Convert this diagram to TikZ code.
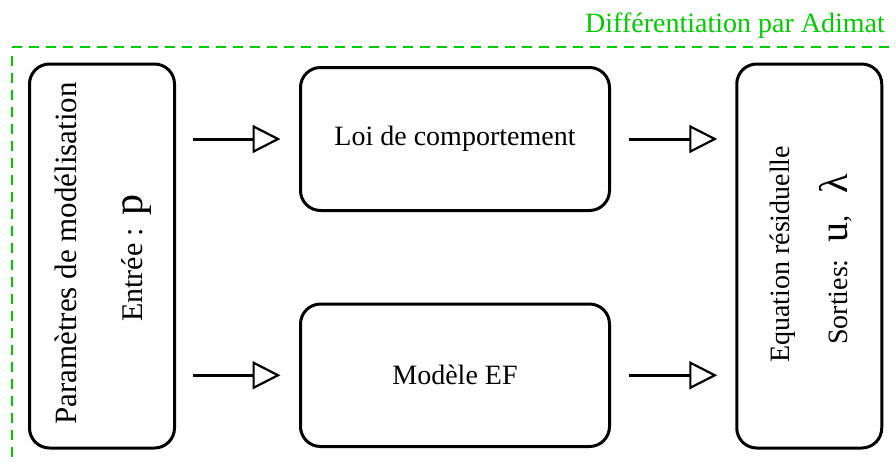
\documentclass[tikz,border=0pt]{standalone}
\usepackage{fontspec}
\setmainfont{Liberation Serif}
\usetikzlibrary{arrows.meta}
\definecolor{adigreen}{RGB}{0,204,0}
\newcommand{\bigglyph}[1]{{\fontsize{40}{40}\selectfont #1}}
\begin{document}
\begin{tikzpicture}[x=1pt,y=-1pt,
  box/.style={draw, line width=3pt, rounded corners=20pt, inner sep=0pt},
  arr/.style={line width=3pt, -{Triangle[open, length=28pt, width=28pt, line width=2.2pt]}},
  txt/.style={font=\fontsize{28}{30}\selectfont, inner sep=0pt},
  frame/.style={adigreen, line width=2.5pt, dash pattern=on 10pt off 7pt},
]
\useasboundingbox (0,0) rectangle (896,461);

% green frame and label
\coordinate (fc) at (12,47);
\coordinate (fr) at (896,47);
\coordinate (fs) at (12,56);
\coordinate (fb) at (12,461);
\draw[frame] (fc) -- (fr);
\draw[frame] (fs) -- (fb);
\node[txt, text=adigreen, anchor=base east] (lbl) at (885,32) {Différentiation par Adimat};

% boxes
\node[box, minimum width=145pt, minimum height=384pt] (lft) at (102,256) {};
\node[box, txt, minimum width=309pt, minimum height=143pt] (lct) at (455,139) {Loi de comportement};
\node[box, txt, minimum width=309pt, minimum height=142.5pt] (mef) at (455,375.25) {Modèle EF};
\node[box, minimum width=145pt, minimum height=384pt] (rgt) at (809.25,256) {};

% rotated texts
\node[txt, font=\fontsize{31}{33}\selectfont, rotate=90, anchor=base west] (t1) at (76,425) {Paramètres de modélisation};
\node[txt, font=\fontsize{30}{32}\selectfont, rotate=90, anchor=base west] (t2) at (142,322) {Entrée :\hspace{12pt}{\fontsize{42}{42}\selectfont p}};
\node[txt, rotate=90, anchor=base west] (t3) at (789,363) {Equation résiduelle};
\node[txt, rotate=90, anchor=base west] (t4) at (847,345) {Sorties:\hspace{17pt}\bigglyph{u},\hspace{22pt}\bigglyph{λ}};

% arrows
\draw[arr, shorten <=17pt, shorten >=18.5pt] (lft.east |- lct.west) -- (lct.west);
\draw[arr, shorten <=17pt, shorten >=18.5pt] (lft.east |- mef.west) -- (mef.west);
\draw[arr, shorten <=17.5pt, shorten >=18pt] (lct.east) -- (rgt.west |- lct.east);
\draw[arr, shorten <=17.5pt, shorten >=18pt] (mef.east) -- (rgt.west |- mef.east);
\end{tikzpicture}
\end{document}
